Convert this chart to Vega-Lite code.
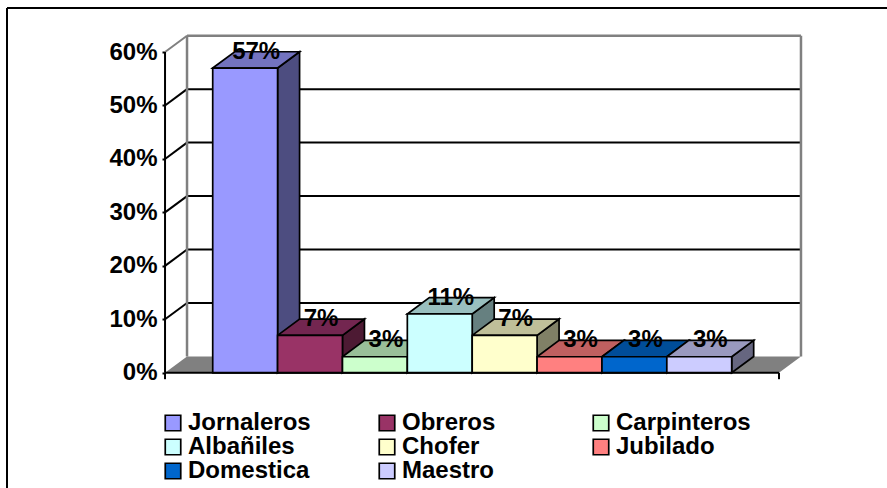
{
"$schema":"https://vega.github.io/schema/vega-lite/v6.json",
"width":880,"height":480,
"autosize":{"type":"none"},
"padding":{"left":7,"top":8,"right":0,"bottom":0},
"background":"white",
"config":{"view":{"stroke":null},"font":"Liberation Sans"},
"datasets":{
"ocupaciones":[
{"ocupacion":"Jornaleros","valor":57},
{"ocupacion":"Obreros","valor":7},
{"ocupacion":"Carpinteros","valor":3},
{"ocupacion":"Albañiles","valor":11},
{"ocupacion":"Chofer","valor":7},
{"ocupacion":"Jubilado","valor":3},
{"ocupacion":"Domestica","valor":3},
{"ocupacion":"Maestro","valor":3}],
"marcas":[{"m":10},{"m":20},{"m":30},{"m":40},{"m":50}],
"suelo":[{"px":-0.735,"a":0,"b":0},{"px":-0.396,"a":0,"b":3.05},{"px":8.729,"a":0,"b":3.05},{"px":9.068,"a":3.05,"b":3.05}],
"uno":[{"k":1}]
},
"resolve":{"scale":{"color":"independent"}},
"layer":[
{"data":{"name":"uno"},"mark":{"type":"rule","color":"black","strokeWidth":2,"clip":false},
 "encoding":{"y":{"datum":68.23,"type":"quantitative","scale":{"domain":[-21.55,68.23],"nice":false,"zero":false},
   "axis":{"title":null,"offset":-158,"values":[0,10,20,30,40,50,60],"labelExpr":"datum.value+'%'","domain":false,"grid":false,"ticks":true,"tickSize":3,"tickColor":"black","tickWidth":2,"labelFont":"Liberation Sans","labelFontWeight":"bold","labelFontSize":24,"labelColor":"black","labelPadding":5}}}},
{"data":{"name":"uno"},"mark":{"type":"rule","color":"black","strokeWidth":2,"clip":false},
 "encoding":{"x":{"datum":-3.171,"type":"quantitative","scale":{"domain":[-3.171,10.394],"nice":false,"zero":false},"axis":null}}},
{"data":{"name":"suelo"},"mark":{"type":"area","orient":"vertical","color":"#808080"},
 "encoding":{"x":{"field":"px","type":"quantitative"},"y":{"field":"b","type":"quantitative"},"y2":{"field":"a"}}},
{"data":{"name":"marcas"},"transform":[{"calculate":"datum.m+3.05","as":"fondo"}],
 "mark":{"type":"rule","color":"black","strokeWidth":2},
 "encoding":{"x":{"datum":-0.396,"type":"quantitative"},"x2":{"datum":9.068},"y":{"field":"fondo","type":"quantitative"}}},
{"data":{"name":"marcas"},"transform":[{"calculate":"datum.m+3.05","as":"fondo"}],
 "mark":{"type":"rule","color":"black","strokeWidth":2},
 "encoding":{"x":{"datum":-0.735,"type":"quantitative"},"x2":{"datum":-0.396},"y":{"field":"m","type":"quantitative"},"y2":{"field":"fondo"}}},
{"data":{"name":"uno"},"mark":{"type":"rule","color":"#808080","strokeWidth":2.5},
 "encoding":{"x":{"datum":-0.396,"type":"quantitative"},"y":{"datum":3.05,"type":"quantitative"},"y2":{"datum":63.05}}},
{"data":{"name":"uno"},"mark":{"type":"rule","color":"#808080","strokeWidth":2.5},
 "encoding":{"x":{"datum":9.068,"type":"quantitative"},"y":{"datum":3.05,"type":"quantitative"},"y2":{"datum":63.05}}},
{"data":{"name":"uno"},"mark":{"type":"rule","color":"#808080","strokeWidth":2.5},
 "encoding":{"x":{"datum":-0.396,"type":"quantitative"},"x2":{"datum":9.068},"y":{"datum":63.05,"type":"quantitative"}}},
{"data":{"name":"uno"},"mark":{"type":"rule","color":"#808080","strokeWidth":2},
 "encoding":{"x":{"datum":-0.735,"type":"quantitative"},"x2":{"datum":-0.396},"y":{"datum":60,"type":"quantitative"},"y2":{"datum":63.05}}},
{"data":{"name":"ocupaciones"},
 "transform":[{"window":[{"op":"row_number","as":"n"}]},{"calculate":"[0,1]","as":"t"},{"flatten":["t"]},
  {"calculate":"datum.n+datum.t*0.339","as":"xs"},{"calculate":"datum.t*3.05","as":"yb"},{"calculate":"datum.valor+datum.t*3.05","as":"yt"}],
 "mark":{"type":"area","orient":"vertical","stroke":"black","strokeWidth":1.7},
 "encoding":{"x":{"field":"xs","type":"quantitative"},"y":{"field":"yt","type":"quantitative"},"y2":{"field":"yb"},"detail":{"field":"ocupacion"},
  "color":{"field":"ocupacion","type":"nominal","legend":null,"sort":null,
   "scale":{"domain":["Jornaleros","Obreros","Carpinteros","Albañiles","Chofer","Jubilado","Domestica","Maestro"],"range":["#4D4D80","#4D1A33","#668066","#668080","#808066","#804040","#003366","#666680"]}}}},
{"data":{"name":"ocupaciones"},
 "transform":[{"window":[{"op":"row_number","as":"n"}]},{"calculate":"[0,0.339,1,1.339]","as":"t"},{"flatten":["t"]},
  {"calculate":"datum.n-1+datum.t","as":"xs"},{"calculate":"datum.valor+(datum.t>1?3.05:0)","as":"yb"},{"calculate":"datum.valor+(datum.t>0?3.05:0)","as":"yt"}],
 "mark":{"type":"area","orient":"vertical","stroke":"black","strokeWidth":1.7},
 "encoding":{"x":{"field":"xs","type":"quantitative"},"y":{"field":"yt","type":"quantitative"},"y2":{"field":"yb"},"detail":{"field":"ocupacion"},
  "color":{"field":"ocupacion","type":"nominal","legend":null,"sort":null,
   "scale":{"domain":["Jornaleros","Obreros","Carpinteros","Albañiles","Chofer","Jubilado","Domestica","Maestro"],"range":["#7373BF","#732650","#99BF99","#99BFBF","#BFBF99","#BF6060","#004D99","#9999BF"]}}}},
{"data":{"name":"ocupaciones"},
 "transform":[{"window":[{"op":"row_number","as":"n"}]},{"calculate":"datum.n-1","as":"izq"}],
 "mark":{"type":"rect","stroke":"black","strokeWidth":1.7},
 "encoding":{"x":{"field":"izq","type":"quantitative"},"x2":{"field":"n"},"y":{"field":"valor","type":"quantitative"},"y2":{"datum":0},
  "color":{"field":"ocupacion","type":"nominal","sort":null,
   "scale":{"domain":["Jornaleros","Obreros","Carpinteros","Albañiles","Chofer","Jubilado","Domestica","Maestro"],"range":["#9999FF","#993366","#CCFFCC","#CCFFFF","#FFFFCC","#FF8080","#0066CC","#CCCCFF"]},
   "legend":{"title":null,"orient":"none","direction":"horizontal","legendX":154,"legendY":403,"columns":3,"gridAlign":"all","padding":0,"columnPadding":52,"rowPadding":0,"symbolType":"square","symbolSize":240,"symbolStrokeColor":"black","symbolStrokeWidth":1.7,"labelFont":"Liberation Sans","labelFontWeight":"bold","labelFontSize":24,"labelColor":"black","labelOffset":3,"labelLimit":300}}}},
{"data":{"name":"uno"},"mark":{"type":"rule","color":"black","strokeWidth":2},
 "encoding":{"x":{"datum":-0.735,"type":"quantitative"},"y":{"datum":0,"type":"quantitative"},"y2":{"datum":60}}},
{"data":{"name":"uno"},"mark":{"type":"rule","color":"black","strokeWidth":2},
 "encoding":{"x":{"datum":-0.735,"type":"quantitative"},"y":{"datum":-1.2,"type":"quantitative"},"y2":{"datum":0}}},
{"data":{"name":"uno"},"mark":{"type":"rule","color":"black","strokeWidth":2},
 "encoding":{"x":{"datum":8.729,"type":"quantitative"},"y":{"datum":-1.2,"type":"quantitative"},"y2":{"datum":0}}},
{"data":{"name":"uno"},"mark":{"type":"rule","color":"black","strokeWidth":2},
 "encoding":{"x":{"datum":-0.735,"type":"quantitative"},"x2":{"datum":8.729},"y":{"datum":0,"type":"quantitative"}}},
{"data":{"name":"ocupaciones"},
 "transform":[{"window":[{"op":"row_number","as":"n"}]},{"calculate":"datum.n-0.33","as":"cx"},{"calculate":"datum.valor+3.05","as":"cy"},{"calculate":"datum.valor+'%'","as":"etiqueta"}],
 "mark":{"type":"text","font":"Liberation Sans","fontWeight":"bold","fontSize":24,"color":"black","baseline":"middle","align":"center"},
 "encoding":{"x":{"field":"cx","type":"quantitative"},"y":{"field":"cy","type":"quantitative"},"text":{"field":"etiqueta"}}}
]
}
